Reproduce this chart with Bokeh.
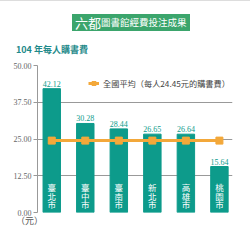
from bokeh.plotting import figure
from bokeh.models import (Range1d, FixedTicker, PrintfTickFormatter, Div,
                          Legend, LegendItem, ColumnDataSource)
from bokeh.layouts import column
from bokeh.core.properties import value
from bokeh.embed import file_html
from bokeh.resources import INLINE

title_big = "六都"
title_rest = "圖書館經費投注成果"
subtitle = "104 年每人購書費"
unit_label = "（元）"
legend_label = "全國平均（每人24.45元的購書費）"
cities = ["臺北市", "臺中市", "臺南市", "新北市", "高雄市", "桃園市"]
spend = [42.12, 30.28, 28.44, 26.65, 26.64, 15.64]
national_avg = 24.45
y_ticks = [0, 12.5, 25, 37.5, 50]

TEAL = "#0d9b8b"
ORANGE = "#f3a83a"
CJK = "Noto Sans CJK TC"
SERIF = "Liberation Serif"

xs = list(range(len(cities)))
src = ColumnDataSource(dict(
    x=xs, v=spend, lab=[f"{s:.2f}" for s in spend],
    city=["\n".join(c) for c in cities], avg=[national_avg] * len(cities)))

header = Div(width=250, height=58, margin=0, text=f"""
<div style="position:relative;width:250px;height:58px;font-family:'{CJK}';">
  <div style="position:absolute;left:0;top:0;width:250px;height:1px;background:#dddddd;"></div>
  <div style="position:absolute;left:72px;top:14px;width:118px;height:17px;background:#3ba56c;
              color:white;display:flex;align-items:center;white-space:nowrap;line-height:1;">
    <span style="font-size:13px;margin-left:3px;">{title_big}</span><span style="font-size:9.5px;">{title_rest}</span>
  </div>
  <div style="position:absolute;left:16px;top:44px;font-size:9px;font-weight:bold;color:#1f8a8a;
              white-space:nowrap;line-height:12px;">{subtitle}</div>
</div>""")

p = figure(width=250, height=160, output_backend="svg", toolbar_location=None,
           x_range=Range1d(-0.425, 5.39), y_range=Range1d(0, 50),
           min_border_left=37, min_border_right=18, min_border_top=7, min_border_bottom=6,
           margin=0)
p.outline_line_color = None
p.background_fill_color = "white"
p.border_fill_color = "white"
p.xaxis.visible = False
p.xgrid.visible = False

p.yaxis.ticker = FixedTicker(ticks=y_ticks)
p.yaxis.formatter = PrintfTickFormatter(format="%.2f")
p.yaxis.minor_tick_line_color = None
p.yaxis.axis_line_color = "#999999"
p.yaxis.major_tick_line_color = "#999999"
p.yaxis.major_tick_out = 4
p.yaxis.major_tick_in = 0
p.yaxis.major_label_standoff = 2
p.yaxis.major_label_text_font = SERIF
p.yaxis.major_label_text_font_size = "8px"
p.yaxis.major_label_text_color = "#666666"
p.ygrid.ticker = FixedTicker(ticks=y_ticks)
p.ygrid.grid_line_color = "#999999"
p.ygrid.grid_line_width = 1

p.vbar(x="x", top="v", width=0.52, source=src, color=TEAL)
p.text(x="x", y="v", text="lab", source=src, text_align="center", text_baseline="bottom",
       y_offset=-2, text_font=value(SERIF), text_font_size="8px", text_color=TEAL)
p.text(x="x", y=0, text="city", source=src, text_align="center", text_baseline="bottom",
       y_offset=-2, text_font=value(CJK), text_font_size="8.5px", text_color="white",
       text_line_height=0.74)

ln = p.line(x="x", y="avg", source=src, line_color=ORANGE, line_width=3)
sq = p.scatter(x="x", y="avg", source=src, marker="square", size=7,
               fill_color=ORANGE, line_color=ORANGE)

legend = Legend(items=[LegendItem(label=legend_label, renderers=[ln, sq])],
                location=(51, 123), label_text_font=CJK, label_text_font_size="8.2px",
                label_text_color="#444444", glyph_width=11, glyph_height=10,
                label_standoff=4, padding=0, margin=0, border_line_color=None,
                background_fill_alpha=0)
p.add_layout(legend, "center")

footer = Div(width=250, height=29, margin=0, text=f"""
<div style="position:relative;width:250px;height:29px;font-family:'{CJK}';">
  <div style="position:absolute;left:16px;top:-3px;font-size:9px;color:#555555;
              white-space:nowrap;line-height:12px;">{unit_label}</div>
</div>""")

layout = column(header, p, footer, spacing=0, margin=0)
open("out.html", "w").write(file_html(layout, INLINE))
